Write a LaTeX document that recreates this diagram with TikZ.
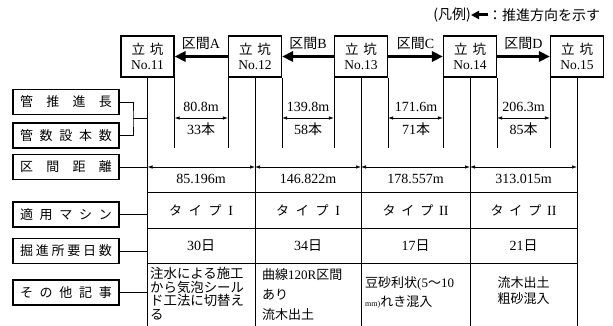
\documentclass[tikz,border=0pt]{standalone}
\usepackage{fontspec}
\setmainfont{Liberation Serif}
\newfontfamily\cjk{Noto Sans CJK JP}
\usetikzlibrary{arrows.meta}
\begin{document}
\begin{tikzpicture}[x=1pt,y=-1pt,
  shaft/.style={draw, line width=1.1pt, minimum width=53pt, minimum height=41pt, inner sep=0pt, align=center, font=\fontsize{13.5}{14.5}\selectfont},
  lab/.style={draw, line width=1.1pt, minimum width=106pt, minimum height=25pt, inner sep=0pt, font=\cjk\fontsize{13}{14}\selectfont},
  thinl/.style={line width=0.7pt},
  push/.style={line width=2.8pt, -{Triangle[length=11pt,width=10pt]}},
  dimn/.style={line width=0.7pt, {Latex[length=5pt,width=3.5pt]}-{Latex[length=5pt,width=3.5pt]}},
  txt/.style={inner sep=0pt, font=\fontsize{14}{15}\selectfont},
  ctxt/.style={inner sep=0pt, font=\cjk\fontsize{13}{13}\selectfont}
]
\useasboundingbox (0,0) rectangle (613,326);
% legend
\node[ctxt, anchor=west, font=\cjk\fontsize{14}{15}\selectfont] (lg2) at (488,15) {：推進方向を示す};
\coordinate (la) at (471,15);
\draw[line width=3pt, -{Triangle[length=8pt,width=8pt]}] (lg2.west) -- (la);
\node[ctxt, anchor=east, font=\cjk\fontsize{14}{15}\selectfont] (lg1) at (la) {(凡例)};
% shafts
\node[shaft] (s11) at (147.5,56.5) {{\cjk 立\hspace{5pt}坑}\\No.11};
\node[shaft] (s12) at (255,56.5) {{\cjk 立\hspace{5pt}坑}\\No.12};
\node[shaft] (s13) at (361,56.5) {{\cjk 立\hspace{5pt}坑}\\No.13};
\node[shaft] (s14) at (470,56.5) {{\cjk 立\hspace{5pt}坑}\\No.14};
\node[shaft] (s15) at (577,56.5) {{\cjk 立\hspace{5pt}坑}\\No.15};
% push arrows
\draw[push] (s12.west) -- (s11.east);
\draw[push] (s13.west) -- (s12.east);
\draw[push] (s13.east) -- (s14.west);
\draw[push] (s14.east) -- (s15.west);
\node[txt] (kA) at (201,43) {{\cjk 区間}A};
\node[txt] (kB) at (308,43) {{\cjk 区間}B};
\node[txt] (kC) at (415.5,43) {{\cjk 区間}C};
\node[txt] (kD) at (523.5,43) {{\cjk 区間}D};
% helper coordinates
\coordinate (bot) at (0,326);
\coordinate (eb) at (0,148);
\coordinate (pl) at (0,118);
\coordinate (dl) at (0,167);
% center lines
\foreach \s in {s11,s12,s13,s14,s15} {\draw[thinl] (\s.south) -- (\s.south |- bot);}
% edge lines
\draw[thinl] (s11.south east) -- (s11.south east |- eb);
\foreach \s in {s12,s13,s14} {
  \draw[thinl] (\s.south west) -- (\s.south west |- eb);
  \draw[thinl] (\s.south east) -- (\s.south east |- eb);}
\draw[thinl] (s15.south west) -- (s15.south west |- eb);
% pipe length dims
\draw[dimn] (s11.south east |- pl) -- (s12.south west |- pl);
\draw[dimn] (s12.south east |- pl) -- (s13.south west |- pl);
\draw[dimn] (s13.south east |- pl) -- (s14.south west |- pl);
\draw[dimn] (s14.south east |- pl) -- (s15.south west |- pl);
\node[txt] (p1) at (201,107) {80.8m};
\node[txt] (p2) at (308,107) {139.8m};
\node[txt] (p3) at (416,107) {171.6m};
\node[txt] (p4) at (523.5,107) {206.3m};
\node[txt] (n1) at (201,129.5) {33{\cjk 本}};
\node[txt] (n2) at (308,129.5) {58{\cjk 本}};
\node[txt] (n3) at (416,129.5) {71{\cjk 本}};
\node[txt] (n4) at (523.5,129.5) {85{\cjk 本}};
% left labels
\node[lab] (L1) at (66,102) {\makebox[92pt][s]{管\hfill 推\hfill 進\hfill 長}};
\node[lab] (L2) at (66,135.5) {\makebox[92pt][s]{管\hfill 数\hfill 設\hfill 本\hfill 数}};
\node[lab] (L3) at (66,167) {\makebox[92pt][s]{区\hfill 間\hfill 距\hfill 離}};
\node[lab] (L4) at (66,214.5) {\makebox[92pt][s]{適\hfill 用\hfill マ\hfill シ\hfill ン}};
\node[lab] (L5) at (66,251) {\makebox[92pt][s]{掘\hfill 進\hfill 所\hfill 要\hfill 日\hfill 数}};
\node[lab] (L6) at (66,292.5) {\makebox[92pt][s]{そ\hfill の\hfill 他\hfill 記\hfill 事}};
% bracket
\coordinate (brk) at (133,118.75);
\draw[thinl] (L1.east) -| (brk) |- (L2.east);
\draw[thinl] (brk) -- (brk -| s11.south);
\draw[thinl] (L3.east) -- (L3.east -| s11.south);
\draw[thinl] (L4.east) -- (L4.east -| s11.south);
\draw[thinl] (L5.east) -- (L5.east -| s11.south);
\draw[thinl] (L6.east) -- (L6.east -| s11.south);
% distance dims
\draw[dimn] (s11.south |- dl) -- (s12.south |- dl);
\draw[dimn] (s12.south |- dl) -- (s13.south |- dl);
\draw[dimn] (s13.south |- dl) -- (s14.south |- dl);
\draw[dimn] (s14.south |- dl) -- (s15.south |- dl);
\node[txt] (d1) at (201,179) {85.196m};
\node[txt] (d2) at (308,179) {146.822m};
\node[txt] (d3) at (415.5,179) {178.557m};
\node[txt] (d4) at (523.5,179) {313.015m};
% row lines
\foreach \yy in {192,228,263} {\draw[thinl] (s11.south |- 0,\yy) -- (s15.south |- 0,\yy);}
% machine
\node[ctxt] (m1) at (201,210) {\makebox[64pt][s]{タ\hfill イ\hfill プ\hfill {\rmfamily\fontsize{14}{15}\selectfont I}}};
\node[ctxt] (m2) at (308,210) {\makebox[64pt][s]{タ\hfill イ\hfill プ\hfill {\rmfamily\fontsize{14}{15}\selectfont I}}};
\node[ctxt] (m3) at (415.5,210) {\makebox[66pt][s]{タ\hfill イ\hfill プ\hfill {\rmfamily\fontsize{14}{15}\selectfont II}}};
\node[ctxt] (m4) at (523.5,210) {\makebox[66pt][s]{タ\hfill イ\hfill プ\hfill {\rmfamily\fontsize{14}{15}\selectfont II}}};
% days
\node[txt] (t1) at (201,246) {30{\cjk 日}};
\node[txt] (t2) at (308,246) {34{\cjk 日}};
\node[txt] (t3) at (415.5,246) {17{\cjk 日}};
\node[txt] (t4) at (523.5,246) {21{\cjk 日}};
% remarks
\node[ctxt, anchor=north west, align=left, font=\cjk\fontsize{13.4}{13.4}\selectfont] (r1) at (150,267.5) {注水による施工\\から気泡シール\\ド工法に切替え\\る};
\node[ctxt, anchor=north west, align=left, font=\cjk\fontsize{13}{20}\selectfont] (r2) at (262,268) {曲線{\rmfamily 120R}区間\\あり\\流木出土};
\node[ctxt, anchor=north west, align=left, font=\cjk\fontsize{13}{19}\selectfont] (r3) at (365,276) {豆砂利状{\rmfamily (5}～{\rmfamily 10}\\{\rmfamily\fontsize{8}{9}\selectfont mm)}れき混入};
\node[ctxt, anchor=north, align=center, font=\cjk\fontsize{13}{16}\selectfont] (r4) at (523.5,276) {流木出土\\粗砂混入};
\end{tikzpicture}
\end{document}
